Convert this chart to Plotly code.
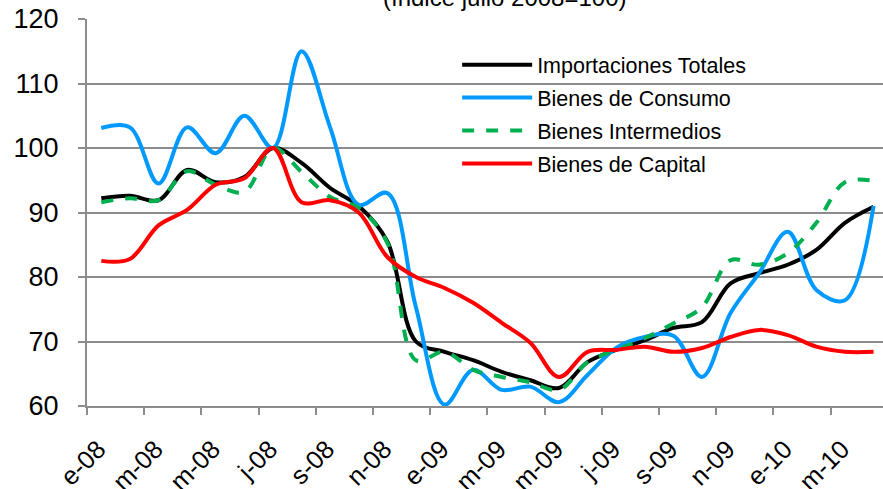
import plotly.graph_objects as go

months = ["e-08","f-08","m-08","a-08","m-08","j-08","j-08","a-08","s-08","o-08","n-08","d-08",
          "e-09","f-09","m-09","a-09","m-09","j-09","j-09","a-09","s-09","o-09","n-09","d-09",
          "e-10","f-10","m-10","a-10"]

totales = [92.2, 92.6, 91.9, 96.6, 94.7, 95.5, 100.0, 97.7, 93.8, 91.0, 85.5, 70.0,
           68.4, 67.1, 65.3, 64.0, 62.8, 66.8, 68.7, 70.2, 72.1, 73.0, 79.0, 80.6,
           81.9, 84.2, 88.4, 90.9]
consumo = [103.1, 103.2, 94.5, 103.2, 99.2, 105.0, 100.0, 115.0, 103.2, 91.2, 93.0, 75.3,
           60.2, 65.6, 62.5, 63.0, 60.6, 64.8, 69.0, 70.7, 70.9, 64.5, 74.4, 80.6,
           87.0, 78.0, 76.4, 91.0]
intermedios = [91.6, 92.2, 91.9, 96.4, 94.3, 93.2, 100.0, 96.3, 92.4, 90.7, 85.3, 67.1,
               68.4, 65.6, 64.5, 63.7, 62.5, 66.8, 68.7, 70.5, 72.8, 75.3, 82.6, 81.9,
               83.7, 88.4, 94.7, 94.9]
capital = [82.5, 82.8, 88.0, 90.4, 94.3, 95.3, 100.0, 91.6, 91.9, 90.0, 83.1, 80.0,
           78.3, 76.0, 72.9, 69.8, 64.5, 68.4, 68.7, 69.2, 68.4, 69.0, 70.7, 71.8,
           71.0, 69.2, 68.4, 68.4]

series_names = ["Importaciones Totales", "Bienes de Consumo", "Bienes Intermedios", "Bienes de Capital"]
series_vals = [totales, consumo, intermedios, capital]
series_colors = ["#000000", "#0099FF", "#00B050", "#FF0000"]
series_dash = ["solid", "solid", "dash", "solid"]
title_text = "(índice julio 2008=100)"

label_idx = list(range(0, len(months), 2))
label_text = [months[i] for i in label_idx]

x = list(range(len(months)))

fig = go.Figure()
for name, vals, col, dash in zip(series_names, series_vals, series_colors, series_dash):
    fig.add_trace(go.Scatter(
        x=x, y=vals, name=name, mode="lines",
        line=dict(color=col, width=4, dash=dash, shape="spline", smoothing=1.0),
        legendgroup=name,
    ))

font = "Liberation Sans, Arial, sans-serif"
grid = "#8C8C8C"

fig.update_layout(
    width=883, height=489,
    margin=dict(l=87, r=0, t=19, b=83, autoexpand=False),
    paper_bgcolor="white", plot_bgcolor="white",
    font=dict(family=font, color="black"),
    showlegend=True,
    legend=dict(
        x=0.465, y=0.935, xanchor="left", yanchor="top",
        bgcolor="rgba(0,0,0,0)", borderwidth=0,
        font=dict(size=21.5, family=font, color="black"),
        itemwidth=70, traceorder="grouped", tracegroupgap=2,
    ),
    annotations=[dict(
        text=title_text, showarrow=False,
        font=dict(size=24, family=font, color="black"),
        xref="paper", yref="paper", x=0.525, xanchor="center",
        y=1 + 6/387, yanchor="bottom",
    )],
)

fig.update_xaxes(
    range=[-0.5, 27.33], automargin=False,
    tickmode="array", tickvals=label_idx, ticktext=label_text,
    tickangle=-45, ticks="", ticklabelstandoff=16, ticklabelshift=-3,
    tickfont=dict(size=25.5, family=font, color="black"),
    showgrid=False, zeroline=False,
    showline=True, linecolor=grid, linewidth=2,
    minor=dict(ticks="outside", tickmode="linear", tick0=-0.5, dtick=2,
               ticklen=7, tickcolor=grid, tickwidth=2, showgrid=False),
)
fig.update_yaxes(
    range=[60, 120], tickmode="linear", tick0=60, dtick=10, automargin=False,
    ticks="outside", ticklen=7, tickcolor=grid, tickwidth=2,
    ticklabelstandoff=14,
    tickfont=dict(size=27, family=font, color="black"),
    showgrid=True, gridcolor=grid, gridwidth=2,
    zeroline=False, showline=True, linecolor=grid, linewidth=2,
)

fig.write_html("out.html", config={"displayModeBar": False},
               post_script="document.body.style.margin='0';document.body.style.overflow='hidden';")
